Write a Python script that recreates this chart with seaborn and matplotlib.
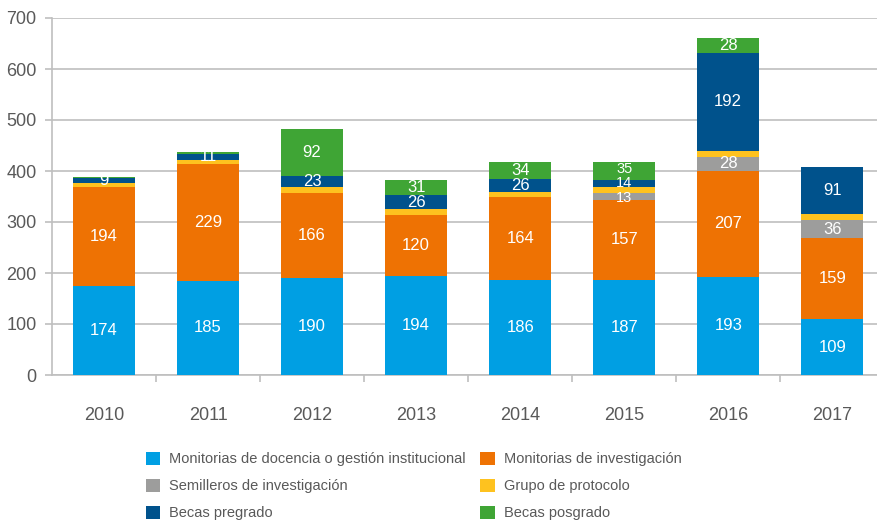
import matplotlib
matplotlib.use("Agg")
import matplotlib.pyplot as plt
from matplotlib.patches import Patch
import numpy as np
import pandas as pd
import seaborn as sns

# ── Data ──────────────────────────────────────────────────────────────────────
years = ["2010", "2011", "2012", "2013", "2014", "2015", "2016", "2017"]

docencia      = [174, 185, 190, 194, 186, 187, 193, 109]
investigacion = [194, 229, 166, 120, 164, 157, 207, 159]
semilleros    = [0, 0, 0, 0, 0, 13, 28, 36]
protocolo     = [9, 8, 12, 12, 8, 11, 12, 12]
pregrado      = [9, 11, 23, 26, 26, 14, 192, 91]
posgrado      = [2, 4, 92, 31, 34, 35, 28, 0]

series_names = [
    "Monitorias de docencia o gestión institucional",
    "Monitorias de investigación",
    "Semilleros de investigación",
    "Grupo de protocolo",
    "Becas pregrado",
    "Becas posgrado",
]
series_vals = [docencia, investigacion, semilleros, protocolo, pregrado, posgrado]
show_label  = [True, True, True, False, True, True]

colors = ["#009FE3", "#EE7203", "#9D9D9C", "#FEC21F", "#00528C", "#3FA535"]

_TXT  = "#595959"
_GRID = "#BFBFBF"

sns.set_style("white")
plt.rcParams["font.family"] = ["Liberation Sans Narrow", "Liberation Sans", "DejaVu Sans"]

fig = plt.figure(figsize=(8.77, 5.24), dpi=100)
ax = fig.add_axes([52 / 877, 149 / 524, 825 / 877, 357 / 524])

vals = np.array(series_vals, dtype=float)
cum = np.cumsum(vals, axis=0)

# stacked bars: draw cumulative totals from top layer down
for i in range(len(series_names) - 1, -1, -1):
    df = pd.DataFrame({"year": years, "value": cum[i]})
    sns.barplot(data=df, x="year", y="value", order=years, color=colors[i],
                width=0.6, saturation=1, ax=ax, zorder=3, linewidth=0)

# value labels (crowded 2015 segments nudged apart a little)
nudge = {(5, 5): 4, (4, 5): 2, (2, 5): -4}
for i in range(len(series_names)):
    if not show_label[i]:
        continue
    for j in range(len(years)):
        v = vals[i, j]
        if v < 5:
            continue
        y = cum[i, j] - v / 2 + nudge.get((i, j), 0)
        fs = 10.5 if (i, j) in nudge else 12
        ax.text(j, y, f"{int(v)}", ha="center", va="center",
                color="white", fontsize=fs, zorder=5)

ax.set_ylim(0, 700)
ax.set_xlim(-0.5, 7.43)
ax.set_yticks(range(0, 701, 100))
ax.yaxis.grid(True, color=_GRID, linewidth=1.2, zorder=0)
ax.set_axisbelow(True)
ax.set_xlabel("")
ax.set_ylabel("")

for s in ["top", "right"]:
    ax.spines[s].set_visible(False)
for s in ["left", "bottom"]:
    ax.spines[s].set_color(_GRID)
    ax.spines[s].set_linewidth(1.2)

ax.tick_params(axis="y", colors=_GRID, labelcolor=_TXT, labelsize=13,
               length=5, width=1.2, direction="out", pad=6, left=True)
ax.tick_params(axis="x", length=0, labelcolor=_TXT, labelsize=13, pad=23)
ax.set_xticks(range(len(years)))
ax.set_xticklabels(years)
# small separators between categories
ax.set_xticks(np.arange(0.5, 7.5, 1), minor=True)
ax.tick_params(axis="x", which="minor", length=5, width=1.2, color=_GRID,
               bottom=True)

# legend filled row by row like the original (two columns)
order = [0, 2, 4, 1, 3, 5]
handles = [Patch(facecolor=colors[k], edgecolor="none") for k in order]
labels = [series_names[k] for k in order]
fig.legend(handles, labels, ncol=2, loc="upper left",
           bbox_to_anchor=(140 / 877, 1 - 446 / 524), frameon=False,
           fontsize=10.5, labelcolor=_TXT, handlelength=1.0, handleheight=1.0,
           handletextpad=0.6, columnspacing=1.0, labelspacing=0.85,
           borderaxespad=0)

fig.savefig("out.png", dpi=100)
